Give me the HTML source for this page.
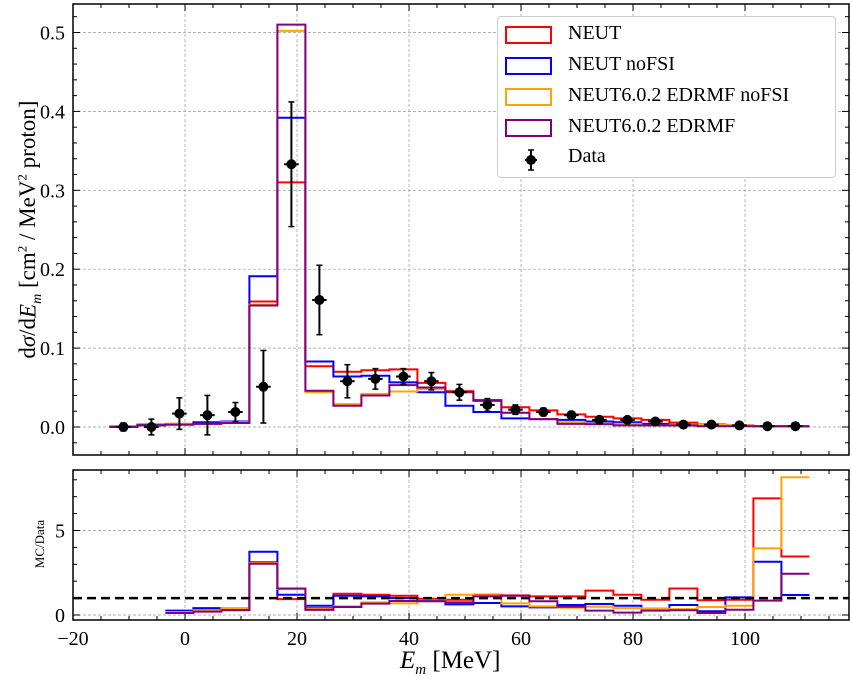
<!DOCTYPE html>
<html><head><meta charset="utf-8"><style>
body{margin:0;background:#fff;}
svg{display:block;font-family:"Liberation Serif","DejaVu Serif",serif;}
</style></head><body>
<svg id="chart" width="852" height="683" viewBox="0 0 852 683"></svg>
<script>
const binEdgesStart = -13.5;
const binWidth = 5;
const neut = [0.001,0.002,0.004,0.005,0.006,0.159,0.310,0.077,0.070,0.072,0.073,0.056,0.044,0.033,0.025,0.021,0.016,0.013,0.011,0.009,0.0055,0.0035,0.002,0.001,0.001];
const neutNoFSI = [0.001,0.003,0.003,0.006,0.007,0.191,0.392,0.083,0.064,0.065,0.0565,0.044,0.027,0.019,0.011,0.010,0.009,0.007,0.006,0.004,0.002,0.002,0.002,0.001,0.001];
const edrmfNoFSI = [0.001,0.002,0.004,0.004,0.006,0.155,0.502,0.044,0.029,0.042,0.045,0.048,0.046,0.034,0.018,0.010,0.006,0.004,0.004,0.002,0.003,0.003,0.002,0.001,0.001];
const edrmf = [0.0,0.002,0.003,0.004,0.005,0.154,0.510,0.046,0.027,0.040,0.053,0.050,0.045,0.034,0.018,0.010,0.004,0.0035,0.002,0.002,0.002,0.001,0.001,0.001,0.001];
const dataVals = [0.0,0.0,0.017,0.015,0.019,0.051,0.333,0.161,0.058,0.061,0.064,0.058,0.044,0.028,0.022,0.019,0.015,0.009,0.009,0.007,0.003,0.003,0.002,0.001,0.001];
const dataErr = [0.005,0.01,0.02,0.025,0.012,0.046,0.079,0.044,0.021,0.013,0.010,0.011,0.010,0.008,0.006,0.005,0.004,0.003,0.003,0.003,0.002,0.002,0.002,0.001,0.001];
const ratioStart = 2;
const ratioNeut = [0.24,0.37,0.35,3.13,0.94,0.41,1.26,1.2,1.14,0.96,0.9,1.2,1.16,1.1,1.1,1.44,1.2,0.9,1.57,0.87,0.9,6.9,3.46];
const ratioNoFSI = [0.26,0.41,0.35,3.74,1.2,0.55,1.14,1.1,1.0,0.83,0.63,0.71,0.51,0.45,0.59,0.65,0.55,0.37,0.59,0.22,1.04,3.15,1.18];
const ratioEdrmfNoFSI = [0.18,0.28,0.41,3.07,1.54,0.35,0.51,0.75,0.69,0.81,1.2,1.16,0.69,0.51,0.43,0.49,0.41,0.37,0.35,0.47,0.55,3.94,8.15];
const ratioEdrmf = [0.12,0.2,0.28,3.03,1.57,0.3,0.47,0.67,0.83,0.81,0.75,1.1,1.14,0.81,0.49,0.26,0.14,0.26,0.28,0.12,0.31,0.85,2.44];
const xTicks = [-20,0,20,40,60,80,100];
const yTicksTop = [0,0.1,0.2,0.3,0.4,0.5];
const yTicksBot = [0,5];

const NS="http://www.w3.org/2000/svg";
const svg=document.getElementById('chart');
const L=73,R=849,T1=4,B1=455,T2=470,B2=620;
const X=v=>L+(v+20)*5.6;
const Y1=v=>427-v*789;
const Y2=v=>615-v*16.9;
function el(tag,attrs,parent){const e=document.createElementNS(NS,tag);for(const k in attrs)e.setAttribute(k,attrs[k]);(parent||svg).appendChild(e);return e;}
function txt(s,x,y,size,anchor,parent){const t=el('text',{x:x,y:y,'font-size':size,'text-anchor':anchor||'middle',fill:'#000'},parent);t.textContent=s;return t;}

function panel(name,top,bot,Y,yT,yMinStep,yMin,yMax,yFmt){
  const g=el('g',{});
  
  
  xTicks.forEach(v=>{el('line',{x1:X(v),x2:X(v),y1:top,y2:bot,stroke:'#999','stroke-width':0.7,'stroke-dasharray':'3,2'},g);});
  yT.forEach(v=>{el('line',{x1:L,x2:R,y1:Y(v),y2:Y(v),stroke:'#999','stroke-width':0.7,'stroke-dasharray':'3,2'},g);});
  for(let v=-20;v<=115;v+=5){const major=v%20===0;const len=major?7:4;
    el('line',{x1:X(v),x2:X(v),y1:bot,y2:bot-len,stroke:'#000','stroke-width':1},g);
    el('line',{x1:X(v),x2:X(v),y1:top,y2:top+len,stroke:'#000','stroke-width':1},g);}
  for(let v=Math.ceil(yMin/yMinStep)*yMinStep;v<=yMax;v+=yMinStep){
    const major=yT.some(t=>Math.abs(t-v)<1e-9);const len=major?7:4;
    el('line',{x1:L,x2:L+len,y1:Y(v),y2:Y(v),stroke:'#000','stroke-width':1},g);
    el('line',{x1:R,x2:R-len,y1:Y(v),y2:Y(v),stroke:'#000','stroke-width':1},g);}
  yT.forEach(v=>{const t=txt(yFmt(v),L-8,Y(v)+7,20,'end',g);
    });
  return g;
}
const gTop=panel('top-panel',T1,B1,Y1,yTicksTop,0.02,-0.03,0.53,v=>v.toFixed(1));
const gBot=panel('ratio-panel',T2,B2,Y2,yTicksBot,1,0,8.5,v=>String(v));

function stepPath(vals,start,Y,color,name,parent,w){
  let d='';
  vals.forEach((v,i)=>{const x0=X(binEdgesStart+(start+i)*binWidth),x1=X(binEdgesStart+(start+i+1)*binWidth);
    d+=(i===0?'M':'L')+x0+','+Y(v)+'L'+x1+','+Y(v);});
  const p=el('path',{d:d,fill:'none',stroke:color,'stroke-width':w||2},parent);
  
  
}
stepPath(neut,0,Y1,'#ff0000','neut-hist',gTop);
stepPath(neutNoFSI,0,Y1,'#0000ff','neut-nofsi-hist',gTop);
stepPath(edrmfNoFSI,0,Y1,'#ffa500','edrmf-nofsi-hist',gTop);
stepPath(edrmf,0,Y1,'#800080','edrmf-hist',gTop);
dataVals.forEach((v,i)=>{
  const c=binEdgesStart+(i+0.5)*binWidth;const x=X(c);
  const g=el('g',{},gTop);
  
  
  el('line',{x1:x,x2:x,y1:Y1(v-dataErr[i]),y2:Y1(v+dataErr[i]),stroke:'#000','stroke-width':2},g);
  el('line',{x1:x-3,x2:x+3,y1:Y1(v-dataErr[i]),y2:Y1(v-dataErr[i]),stroke:'#000','stroke-width':1.5},g);
  el('line',{x1:x-3,x2:x+3,y1:Y1(v+dataErr[i]),y2:Y1(v+dataErr[i]),stroke:'#000','stroke-width':1.5},g);
  el('line',{x1:X(c-1.3),x2:X(c+1.3),y1:Y1(v),y2:Y1(v),stroke:'#000','stroke-width':2},g);
  el('circle',{cx:x,cy:Y1(v),r:5,fill:'#000'},g);
});
stepPath(ratioNeut,ratioStart,Y2,'#ff0000','neut-ratio',gBot);
stepPath(ratioNoFSI,ratioStart,Y2,'#0000ff','neut-nofsi-ratio',gBot);
stepPath(ratioEdrmfNoFSI,ratioStart,Y2,'#ffa500','edrmf-nofsi-ratio',gBot);
stepPath(ratioEdrmf,ratioStart,Y2,'#800080','edrmf-ratio',gBot);
const ul=el('line',{x1:L,x2:R,y1:Y2(1),y2:Y2(1),stroke:'#000','stroke-width':2.5,'stroke-dasharray':'9,5'},gBot);

[[T1,B1],[T2,B2]].forEach(([a,b])=>{const f=el('rect',{x:L,y:a,width:R-L,height:b-a,fill:'none',stroke:'#000','stroke-width':1.5});
  });
xTicks.forEach(v=>{const t=txt(v<0?'\u2212'+(-v):String(v),X(v),645,20,'middle');
  });
</script>
<div style="position:absolute;left:400px;top:647px;font:25px 'Liberation Serif',serif;"><i>E<sub style="font-size:15px">m</sub></i> [MeV]</div>
<div style="position:absolute;left:-150px;top:214px;width:360px;text-align:center;transform:rotate(-90deg);font:23px 'Liberation Serif',serif;white-space:nowrap;">d<i>σ</i>/d<i>E<sub style="font-size:14px">m</sub></i> [cm<sup style="font-size:13px">2</sup> / MeV<sup style="font-size:13px">2</sup> proton]</div>
<div style="position:absolute;left:-10px;top:536px;width:100px;text-align:center;transform:rotate(-90deg);font:13px 'Liberation Serif',serif;">MC/Data</div>
<div style="position:absolute;left:497px;top:16px;width:337px;height:160px;border:1px solid #ccc;border-radius:4px;background:#fff;font:20px 'Liberation Serif',serif;">
 <div style="position:absolute;left:7px;top:9px;"><span style="position:absolute;left:0;top:0;width:43px;height:14px;border:2px solid #ff0000"></span><span style="position:absolute;left:63px;top:-4px;white-space:nowrap">NEUT</span></div>
 <div style="position:absolute;left:7px;top:40px;"><span style="position:absolute;left:0;top:0;width:43px;height:14px;border:2px solid #0000ff"></span><span style="position:absolute;left:63px;top:-4px;white-space:nowrap">NEUT noFSI</span></div>
 <div style="position:absolute;left:7px;top:71px;"><span style="position:absolute;left:0;top:0;width:43px;height:14px;border:2px solid #ffa500"></span><span style="position:absolute;left:63px;top:-4px;white-space:nowrap">NEUT6.0.2 EDRMF noFSI</span></div>
 <div style="position:absolute;left:7px;top:102px;"><span style="position:absolute;left:0;top:0;width:43px;height:14px;border:2px solid #800080"></span><span style="position:absolute;left:63px;top:-4px;white-space:nowrap">NEUT6.0.2 EDRMF</span></div>
 <div style="position:absolute;left:7px;top:132px;"><svg width="50" height="26" style="position:absolute;left:0;top:-2px"><line x1="20" x2="32" y1="13" y2="13" stroke="#000" stroke-width="2"/><line x1="26" x2="26" y1="3" y2="23" stroke="#000" stroke-width="2"/><line x1="23" x2="29" y1="3" y2="3" stroke="#000" stroke-width="1.5"/><line x1="23" x2="29" y1="23" y2="23" stroke="#000" stroke-width="1.5"/><circle cx="26" cy="13" r="5"/></svg><span style="position:absolute;left:63px;top:-4px;white-space:nowrap">Data</span></div>
</div>
</body></html>
